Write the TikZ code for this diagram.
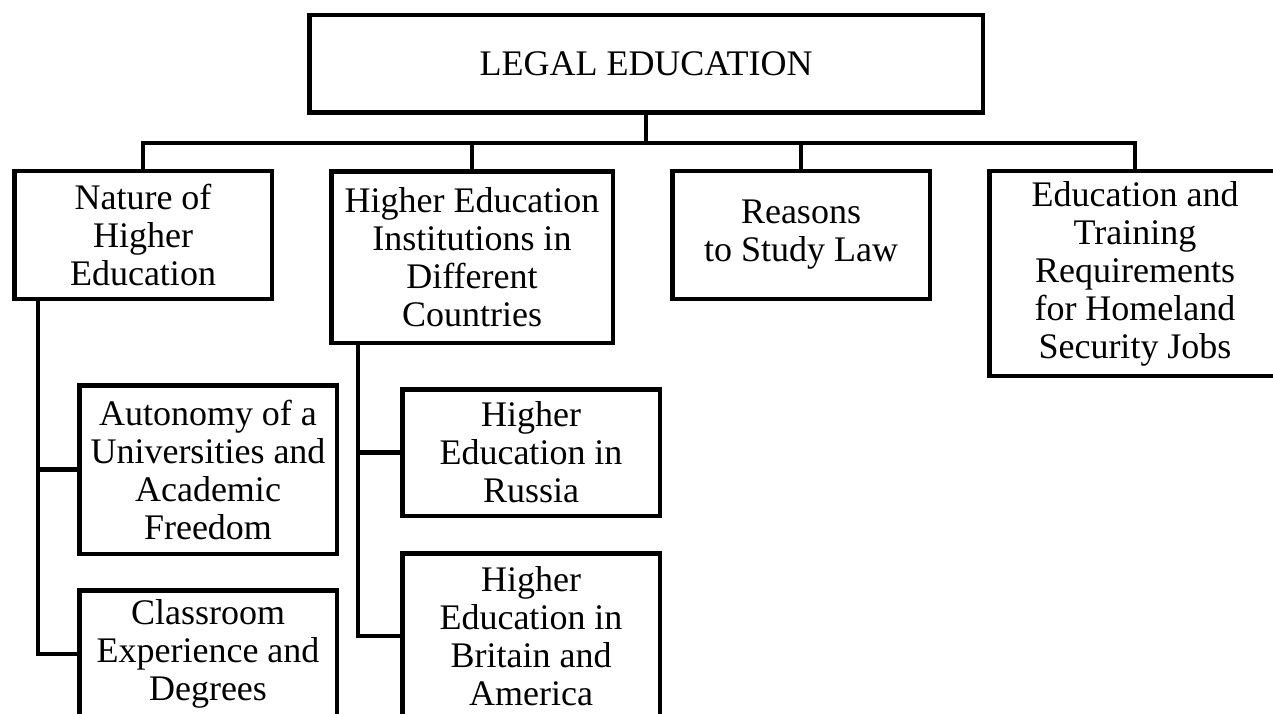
\documentclass[tikz,border=0pt]{standalone}
\usepackage{fontspec}
\setmainfont{Liberation Serif}

\begin{document}
\begin{tikzpicture}[x=1pt, y=-1pt]
    \tikzstyle{block} = [rectangle, draw, line width=4.5pt, align=center, inner sep=0pt, minimum width=257.5pt, font=\fontsize{36}{38}\selectfont]
    \tikzstyle{line} = [draw, line width=4.5pt]

    \useasboundingbox (0,0) rectangle (1273,714);

    \node [block, minimum width=673.5pt, minimum height=97.5pt] (legal) at (646,64) {LEGAL EDUCATION};
    \node [block, minimum height=127.5pt] (nature) at (143,235) {Nature of\\Higher\\Education};
    \node [block, minimum width=281.5pt, minimum height=171pt] (institutions) at (472,257.25) {Higher Education\\Institutions in\\Different\\Countries};
    \node [block, minimum height=127.5pt] (reasons) at (801,235) {Reasons\\to Study Law};
    \node [block, minimum width=291.5pt, minimum height=204.5pt] (homeland) at (1135,273.5) {Education and\\Training\\Requirements\\for Homeland\\Security Jobs};
    \node [block, minimum height=168.5pt] (autonomy) at (208,469.5) {Autonomy of a\\Universities and\\Academic\\Freedom};
    \node [block, minimum height=127.5pt] (classroom) at (208,654) {Classroom\\Experience and\\Degrees};
    \node [block, minimum height=126.5pt] (russia) at (531,452.5) {Higher\\Education in\\Russia};
    \node [block, minimum height=165.5pt] (britain) at (531,636) {Higher\\Education in\\Britain and\\America};

    \coordinate (spineA) at (38,0);
    \coordinate (spineB) at (358,0);

    \path [line] (legal.south) -- ++(0,28) -| (nature.north);
    \path [line] (legal.south) -- ++(0,28) -| (institutions.north);
    \path [line] (legal.south) -- ++(0,28) -| (reasons.north);
    \path [line] (legal.south) -- ++(0,28) -| (homeland.north);
    \path [line] (nature.south -| spineA) |- (classroom.west);
    \path [line] (spineA |- autonomy.west) -- (autonomy.west);
    \path [line] (institutions.south -| spineB) |- (britain.west);
    \path [line] (spineB |- russia.west) -- (russia.west);
\end{tikzpicture}
\end{document}
